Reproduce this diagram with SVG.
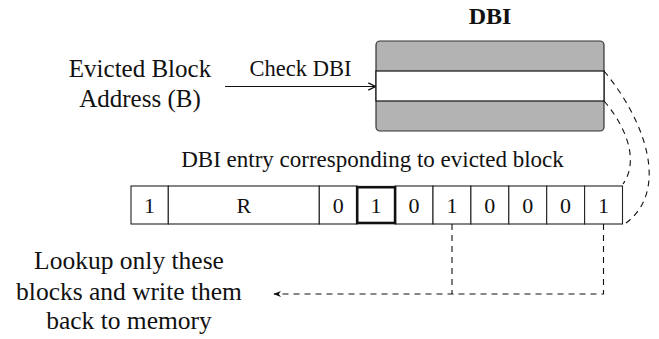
<svg xmlns="http://www.w3.org/2000/svg" width="659" height="339" viewBox="0 0 659 339">
<style>
text{font-family:"Liberation Serif","DejaVu Serif",serif;fill:#111;}
.lbl{font-size:22px;}
.ctr{text-anchor:middle;}
.cell{fill:#fff;stroke:#222;stroke-width:1.1;}
.dash{fill:none;stroke:#111;stroke-width:1.1;stroke-dasharray:6 5;}
</style>
<defs>
<marker id="ah" viewBox="0 0 10 10" refX="9" refY="5" markerWidth="9" markerHeight="9" markerUnits="userSpaceOnUse" orient="auto">
<path d="M1,1 L9,5 L1,9" fill="none" stroke="#111" stroke-width="1.5"/>
</marker>
<marker id="ah2" viewBox="0 0 10 10" refX="9" refY="5" markerWidth="8" markerHeight="8" markerUnits="userSpaceOnUse" orient="auto">
<path d="M0,1 L10,5 L0,9 L3,5 Z" fill="#111"/>
</marker>
</defs>
<g id="dbi">
<text x="490" y="24" class="ctr" style="font-size:24px;font-weight:bold">DBI</text>
<rect x="376" y="41" width="228" height="90" rx="4" fill="#b3b3b3" stroke="#333" stroke-width="1.2"/>
<rect x="376" y="71" width="228" height="30" fill="#fff" stroke="#111" stroke-width="1.2"/>
</g>
<g id="evicted">
<text x="140" y="77" class="lbl ctr" style="font-size:25px">Evicted Block</text>
<text x="140" y="107" class="lbl ctr" style="font-size:25px">Address (B)</text>
</g>
<g id="entry-label">
<text x="372.5" y="167" class="lbl ctr" style="font-size:23px">DBI entry corresponding to evicted block</text>
</g>
<g id="entry">
<rect class="cell" x="131" y="186" width="37.3" height="38"/>
<rect class="cell" x="168.3" y="186" width="151" height="38"/>
<rect class="cell" x="319.3" y="186" width="37.9" height="38"/>
<rect class="cell" x="395.1" y="186" width="37.9" height="38"/>
<rect class="cell" x="433" y="186" width="37.9" height="38"/>
<rect class="cell" x="470.9" y="186" width="37.9" height="38"/>
<rect class="cell" x="508.8" y="186" width="37.9" height="38"/>
<rect class="cell" x="546.7" y="186" width="37.9" height="38"/>
<rect class="cell" x="584.6" y="186" width="37.9" height="38"/>
<rect x="357.2" y="187.2" width="37.9" height="35.8" fill="#fff" stroke="#111" stroke-width="2.6"/>
<text x="149.6" y="213" class="lbl ctr">1</text>
<text x="243.8" y="213" class="lbl ctr">R</text>
<text x="338.2" y="213" class="lbl ctr">0</text>
<text x="376.1" y="213" class="lbl ctr">1</text>
<text x="414" y="213" class="lbl ctr">0</text>
<text x="452" y="213" class="lbl ctr">1</text>
<text x="489.8" y="213" class="lbl ctr">0</text>
<text x="527.7" y="213" class="lbl ctr">0</text>
<text x="565.6" y="213" class="lbl ctr">0</text>
<text x="603.5" y="213" class="lbl ctr">1</text>
</g>
<g id="lookup">
<text x="129" y="269" class="lbl ctr" style="font-size:25.5px">Lookup only these</text>
<text x="129" y="300" class="lbl ctr" style="font-size:25.5px">blocks and write them</text>
<text x="129" y="329" class="lbl ctr" style="font-size:25.5px">back to memory</text>
</g>
<g id="connectors">
<line x1="225" y1="86.5" x2="375.5" y2="86.5" stroke="#111" stroke-width="1.2" marker-end="url(#ah)"/>
<text x="300.5" y="76" class="lbl ctr" style="font-size:22.5px">Check DBI</text>
<path class="dash" d="M604,71 C645,120 670,190 626,223"/>
<path class="dash" d="M604,101 C625,125 640,160 623,184"/>
<path class="dash" d="M452,224 V294"/>
<path class="dash" d="M603.5,224 V294 H274" marker-end="url(#ah2)"/>
</g>
</svg>
